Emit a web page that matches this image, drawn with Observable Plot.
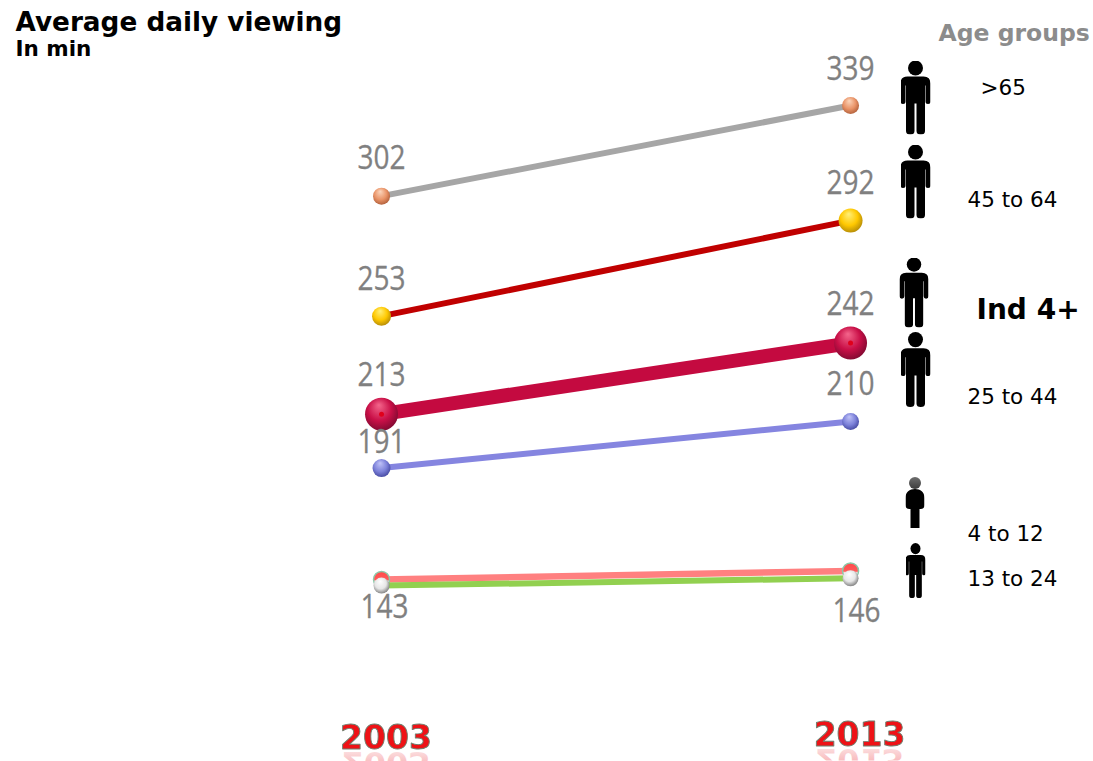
<!DOCTYPE html>
<html>
<head>
<meta charset="utf-8">
<script src="https://cdn.jsdelivr.net/npm/d3@7"></script>
<script src="https://cdn.jsdelivr.net/npm/@observablehq/plot@0.6"></script>
<style>
  html, body { margin: 0; padding: 0; background: #fff; }
  svg { display: block; }
  .year-label { filter: blur(0.5px); }
</style>
</head>
<body>
<div id="chart"></div>
<script>
// Average daily viewing in minutes, by age group
const years = [2003, 2013];
const over65 = [302, 339];
const age45to64 = [253, 292];
const ind4plus = [213, 242];
const age25to44 = [191, 210];
const age4to12 = [145.5, 149];
const age13to24 = [143, 146];

const groupNames = [">65", "45 to 64", "Ind 4+", "25 to 44", "4 to 12", "13 to 24"];
const groupValues = [over65, age45to64, ind4plus, age25to44, age4to12, age13to24];
const lineColors = ["#a6a6a6", "#c00000", "#c40a40", "#8585e0", "#ff8080", "#92d050"];
const lineWidths = [6, 6, 14, 6, 6.5, 6];
const dotFills = ["url(#ball-orange)", "url(#ball-yellow)", "url(#ball-crimson)", "url(#ball-blue)", "url(#ball-pink)", "url(#ball-white)"];
const dotRadii = [[8.5, 8.5], [9.5, 12], [16.5, 16.5], [9, 8.5], [8, 8], [8, 8]];

const rows = groupNames.flatMap((group, g) =>
  years.map((year, i) => ({group, g, year, value: groupValues[g][i], r: dotRadii[g][i]}))
);

// Printed value labels with their offsets from the dot
const valueLabels = [
  {year: 2003, value: 302, dx: 0, dy: -37},
  {year: 2003, value: 253, dx: 0, dy: -36},
  {year: 2003, value: 213, dx: 0, dy: -38},
  {year: 2003, value: 191, dx: 0, dy: -25},
  {year: 2003, value: 143, dx: 3, dy: 22},
  {year: 2013, value: 339, dx: 0, dy: -36},
  {year: 2013, value: 292, dx: 0, dy: -37},
  {year: 2013, value: 242, dx: 0, dy: -38},
  {year: 2013, value: 210, dx: 0, dy: -37},
  {year: 2013, value: 146, dx: 6, dy: 33}
];

const yearOffsets = [4.5, 9];
const yearBaselines = [752, 749];

// Sphere shading for the end points
const ballStops = {
  "ball-orange": ["#fbd6bd", "#ea9468", "#b5643f"],
  "ball-yellow": ["#fff07a", "#ffc800", "#b98f08"],
  "ball-crimson": ["#f4668c", "#c90f47", "#860a33"],
  "ball-blue": ["#c0c3f8", "#7d82da", "#4a4ea6"],
  "ball-white": ["#ffffff", "#e6e6e6", "#858585"]
};

function gradients() {
  const defs = d3.create("svg:defs");
  for (const [id, stops] of Object.entries(ballStops)) {
    const g = defs.append("radialGradient").attr("id", id)
      .attr("cx", 0.45).attr("cy", 0.42).attr("r", 0.58)
      .attr("fx", 0.42).attr("fy", 0.22);
    [0, 0.62, 1].forEach((o, i) => g.append("stop").attr("offset", o).attr("stop-color", stops[i]));
  }
  const pink = defs.append("linearGradient").attr("id", "ball-pink")
    .attr("x1", 0).attr("y1", 0).attr("x2", 0).attr("y2", 1);
  [[0, "#ff4a4a"], [0.52, "#ff5a5a"], [0.62, "#ffffff"], [1, "#ffffff"]]
    .forEach(([o, c]) => pink.append("stop").attr("offset", o).attr("stop-color", c));
  // Value labels above the lower pair stop short of the pictogram column
  defs.append("clipPath").attr("id", "value-clip")
    .append("path").attr("d", "M0 0H874V560H1093V761H0Z");
  return defs.node();
}

// Pictograms used in the age group key
const svgIcon = (w, h, body) =>
  "data:image/svg+xml," + encodeURIComponent(
    `<svg xmlns="http://www.w3.org/2000/svg" viewBox="0 0 ${w} ${h}" preserveAspectRatio="none">${body}</svg>`);

const adultIcon = svgIcon(30, 74,
  `<circle cx="15" cy="7.5" r="7.5"/>` +
  `<path d="M7 16H23Q30 16 30 23V41A2.5 2.5 0 0 1 25 41V25H24.5V70.5A4.25 3.5 0 0 1 16 70.5V43H14V70.5A4.25 3.5 0 0 1 5.5 70.5V25H5V41A2.5 2.5 0 0 1 0 41V23Q0 16 7 16Z"/>`);

const childIcon = svgIcon(19, 51,
  `<defs><linearGradient id="h" x1="0" y1="0" x2="0" y2="1"><stop offset="0" stop-color="#6e6e6e"/><stop offset="1" stop-color="#3c3c3c"/></linearGradient></defs>` +
  `<circle cx="9.5" cy="6" r="6" fill="url(#h)"/>` +
  `<path d="M9.5 12C15 12 19 15 19 21V28Q19 32 15 32H14V51H5V32H4Q0 32 0 28V21C0 15 4 12 9.5 12Z"/>`);

// Mirrored, fading image of a year caption
const reflectionIcon = year => svgIcon(110, 12,
  `<defs><linearGradient id="f" x1="0" y1="0" x2="0" y2="1"><stop offset="0" stop-color="#e8141c" stop-opacity="0.5"/><stop offset="1" stop-color="#e8141c" stop-opacity="0.05"/></linearGradient></defs>` +
  `<text transform="translate(55,0) scale(1,-1)" text-anchor="middle" font-family="DejaVu Sans" font-weight="700" font-size="32" fill="url(#f)">${year}</text>`);

const icons = [
  {src: adultIcon, cx: 915, cy: 97, w: 30, h: 74},
  {src: adultIcon, cx: 915, cy: 181, w: 30, h: 74},
  {src: adultIcon, cx: 913.5, cy: 292, w: 29, h: 70},
  {src: adultIcon, cx: 915, cy: 369, w: 30, h: 75},
  {src: childIcon, cx: 914.5, cy: 502, w: 19, h: 51},
  {src: adultIcon, cx: 915, cy: 570, w: 20, h: 55}
];

const keyLabels = [
  {text: ">65", x: 980, y: 88, size: 21.5, weight: 400},
  {text: "45 to 64", x: 967, y: 200, size: 21.5, weight: 400},
  {text: "Ind 4+", x: 976, y: 310, size: 28, weight: 700},
  {text: "25 to 44", x: 967, y: 397, size: 21.5, weight: 400},
  {text: "4 to 12", x: 967, y: 534, size: 21.5, weight: 400},
  {text: "13 to 24", x: 967, y: 579, size: 21.5, weight: 400}
];

const sans = "'DejaVu Sans', Verdana, sans-serif";
const numberFont = "'Open Sans', sans-serif";

const placedText = (text, x, y, o = {}) =>
  Plot.text([text], {
    text: d => d, frameAnchor: "top-left", dx: x, dy: y,
    textAnchor: "start", lineAnchor: "middle", fontFamily: sans, ...o
  });

// Condenses the digits horizontally around each label's anchor
function condensed(index, scales, values, dims, context, next) {
  const g = next(index, scales, values, dims, context);
  g.querySelectorAll("text").forEach(t => {
    t.setAttribute("transform", `${t.getAttribute("transform") || ""} scale(0.875,1)`);
  });
  const wrap = document.createElementNS("http://www.w3.org/2000/svg", "g");
  wrap.setAttribute("clip-path", "url(#value-clip)");
  wrap.append(g);
  return wrap;
}

const marks = [
  gradients,
  // Lines, then their end points, in stacking order
  ...groupNames.flatMap((group, g) => {
    const data = rows.filter(d => d.g === g);
    return [
      Plot.line(data, {x: "year", y: "value", stroke: lineColors[g], strokeWidth: lineWidths[g], strokeLinecap: "butt"}),
      Plot.dot(data, {x: "year", y: "value", r: "r", fill: dotFills[g],
        stroke: g === 4 ? "#8cc8a8" : "none", strokeWidth: 1.5})
    ];
  }),
  // Centre spot on the all-individuals line
  Plot.dot(rows.filter(d => d.group === "Ind 4+"), {x: "year", y: "value", r: () => 2.5, fill: "#e0001b"}),
  // Value labels, heavier than the font's regular weight
  ...valueLabels.map(d =>
    Plot.text([d], {
      x: "year", y: "value", text: v => String(v.value), dx: d.dx, dy: d.dy,
      fontFamily: numberFont, fontSize: 32, fill: "#808080",
      stroke: "#808080", strokeWidth: 0.3, render: condensed
    })),
  // Year captions with a faint reflection underneath
  ...years.flatMap((year, i) => [
    Plot.image([year], {
      x: d => d, src: reflectionIcon(year), frameAnchor: "top",
      dx: yearOffsets[i], dy: yearBaselines[i] + 5,
      width: 110, height: 12, preserveAspectRatio: "none"
    }),
    Plot.text([year], {
      x: d => d, text: d => String(d), frameAnchor: "top",
      dx: yearOffsets[i], dy: yearBaselines[i] - 4, lineAnchor: "bottom",
      fontFamily: sans, fontWeight: 700, fontSize: 33,
      fill: "#ee1216", stroke: "#6f7f6f", strokeWidth: 0.9, paintOrder: "fill",
      className: "year-label"
    })
  ]),
  // Age group key
  ...icons.map(d =>
    Plot.image([d], {
      src: "src", frameAnchor: "top-left", dx: d.cx, dy: d.cy,
      width: d.w, height: d.h, preserveAspectRatio: "none"
    })),
  ...keyLabels.map(d => placedText(d.text, d.x, d.y, {fontSize: d.size, fontWeight: d.weight, fill: "#000"})),
  placedText("Age groups", 938, 33, {fontSize: 23.5, fontWeight: 700, fill: "#8c8c8c"}),
  // Heading
  placedText("Average daily viewing", 15, 22, {fontSize: 26.3, fontWeight: 700, fill: "#000"}),
  placedText("In min", 15, 49, {fontSize: 21.5, fontWeight: 700, fill: "#000"})
];

const chart = Plot.plot({
  width: 1093,
  height: 761,
  margin: 0,
  x: {domain: [1994.876, 2018.18], range: [0, 1093], axis: null},
  y: {domain: [71.2, 381.86], range: [761, 0], axis: null},
  r: {type: "identity"},
  style: {background: "#fff", overflow: "hidden"},
  marks
});
document.getElementById("chart").append(chart);
</script>
</body>
</html>
